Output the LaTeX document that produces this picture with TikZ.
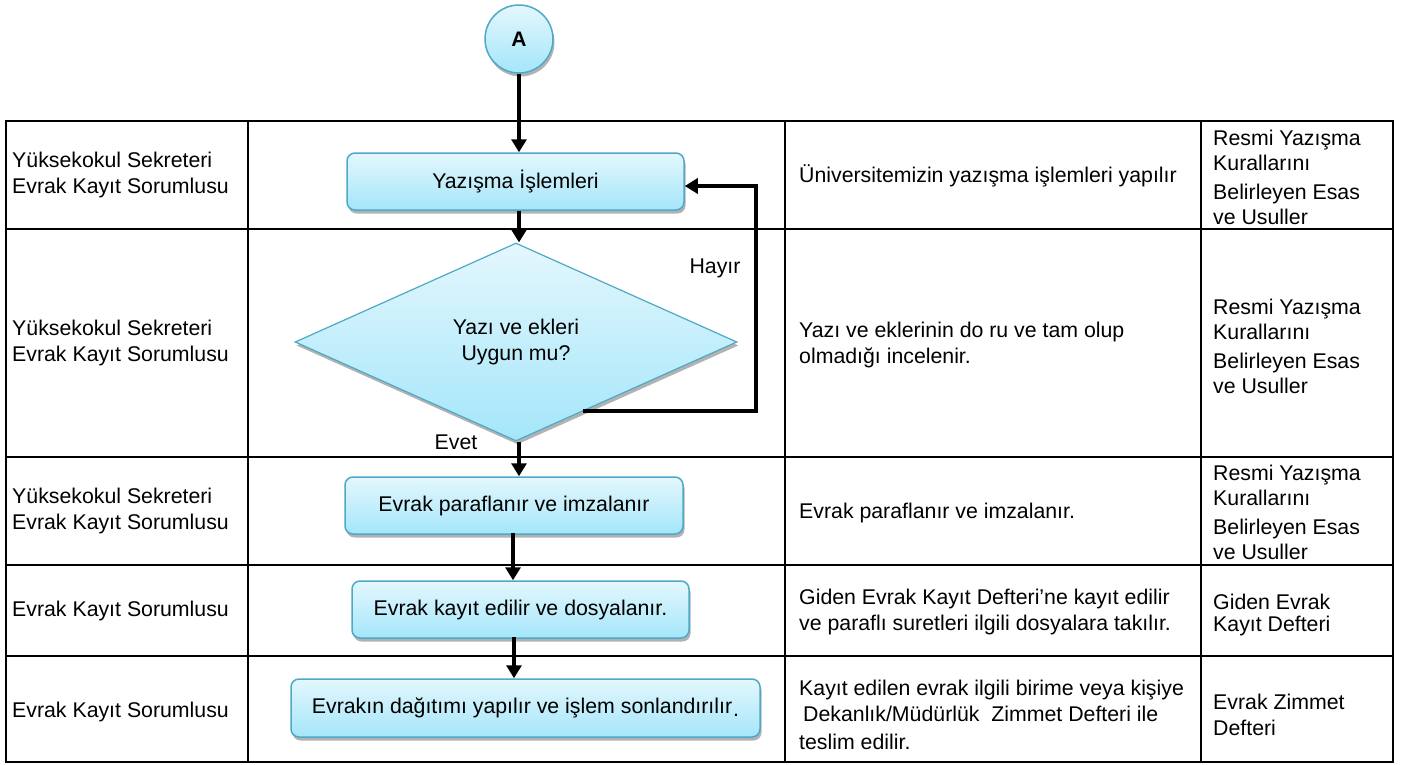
\documentclass[tikz,border=0pt]{standalone}
\usepackage{fontspec}
\setmainfont{Liberation Sans}
\usetikzlibrary{shapes.geometric,arrows.meta,shadows,calc}
\definecolor{boxtop}{RGB}{228,247,253}
\definecolor{boxbot}{RGB}{164,230,250}
\definecolor{boxline}{RGB}{78,168,198}
\tikzset{
  txt/.style={font=\fontsize{21.3}{25.6}\selectfont, inner sep=0pt, align=left, anchor=west},
  flowfill/.style={draw=boxline, line width=1.5pt, top color=boxtop, bottom color=boxbot,
    drop shadow={shadow xshift=1.5pt, shadow yshift=-3.5pt, opacity=0.3, fill=black}},
  flowbox/.style={flowfill, rounded corners=8pt, inner sep=0pt,
    font=\fontsize{21.3}{25.6}\selectfont},
  arr/.style={line width=4pt, -{Triangle[width=15pt,length=13pt]}},
  gridline/.style={line width=2pt},
}
\begin{document}
\begin{tikzpicture}[x=1pt,y=-1pt]
\useasboundingbox (0,0) rectangle (1401,764);
% table
\draw[gridline] (6,121) rectangle (1393,762);
\foreach \yy in {229,457,565,656} \draw[gridline] (6,\yy) -- (1393,\yy);
\foreach \xx in {248,785,1201} \draw[gridline] (\xx,121) -- (\xx,762);
% left column
\node[txt] (l1) at (12,175) {Yüksekokul Sekreteri\\Evrak Kayıt Sorumlusu};
\node[txt] (l2) at (12,343) {Yüksekokul Sekreteri\\Evrak Kayıt Sorumlusu};
\node[txt] (l3) at (12,511) {Yüksekokul Sekreteri\\Evrak Kayıt Sorumlusu};
\node[txt] (l4) at (12,611) {Evrak Kayıt Sorumlusu};
\node[txt] (l5) at (12,712) {Evrak Kayıt Sorumlusu};
% description column
\node[txt] (t1) at (799,176) {Üniversitemizin yazışma işlemleri yapılır};
\node[txt] (t2) at (799,345) {Yazı ve eklerinin do ru ve tam olup\\olmadığı incelenir.};
\node[txt] (t3) at (799,513) {Evrak paraflanır ve imzalanır.};
\node[txt] (t4) at (799,612) {Giden Evrak Kayıt Defteri’ne kayıt edilir\\ve paraflı suretleri ilgili dosyalara takılır.};
\node[txt] (t5) at (799,715) {Kayıt edilen evrak ilgili birime veya kişiye\\\hspace*{4pt}Dekanlık/Müdürlük~ Zimmet Defteri ile\\[3pt]teslim edilir.};
% right column
\node[txt] (r1) at (1213,177) {Resmi Yazışma\\Kurallarını\\[3pt]Belirleyen Esas\\[-1pt]ve Usuller};
\node[txt] (r2) at (1213,346) {Resmi Yazışma\\Kurallarını\\[3pt]Belirleyen Esas\\[-1pt]ve Usuller};
\node[txt] (r3) at (1213,512) {Resmi Yazışma\\Kurallarını\\[3pt]Belirleyen Esas\\[-1pt]ve Usuller};
\node[txt] (r4) at (1213,615) {Giden Evrak\\[-4pt]Kayıt Defteri};
\node[txt] (r5) at (1213,715) {Evrak Zimmet\\Defteri};
% flow shapes
\node[flowfill, circle, minimum size=68pt, inner sep=0pt,
  font=\bfseries\fontsize{21}{24}\selectfont] (A) at (519,39) {A};
\node[flowbox, minimum width=337pt, minimum height=57pt] (b1) at (515.5,181.5) {Yazışma İşlemleri};
\node[flowfill, diamond, line width=1.2pt, minimum width=442pt, minimum height=198pt, aspect=2.23,
  inner sep=0pt, align=center, font=\fontsize{21.3}{29}\selectfont] (d) at (516,342)
  {\raisebox{-3pt}{Yazı ve ekleri}\\Uygun mu?};
\node[flowbox, minimum width=338pt, minimum height=57pt] (b3) at (514,505.5) {Evrak paraflanır ve imzalanır};
\node[flowbox, minimum width=337pt, minimum height=57pt] (b4) at (520.5,609.5) {Evrak kayıt edilir ve dosyalanır.};
\node[flowbox, minimum width=469pt, minimum height=58pt] (b5) at (525.5,708) {Evrakın dağıtımı yapılır ve işlem sonlandırılır\kern1pt\raisebox{-3pt}{.}};
% labels
\node[font=\fontsize{21.3}{25.6}\selectfont, inner sep=0pt] (hayir) at (715,268) {Hayır};
\node[font=\fontsize{21.3}{25.6}\selectfont, inner sep=0pt] (evet) at (456,442) {Evet};
% connectors
\coordinate (c2) at (513,0);
\coordinate (c3) at (514,0);
\draw[arr] (A.south) -- (A |- b1.north);
\draw[arr] (A |- b1.south) -- (A |- d.north);
\draw[arr] (A |- d.south) -- (A |- b3.north);
\draw[arr] ($(c2 |- b3.south)+(0,-2)$) -- (c2 |- b4.north);
\draw[arr] ($(c3 |- b4.south)+(0,-2)$) -- (c3 |- b5.north);
\coordinate (dl) at ($(d.east)!0.697!(d.south)$);
\coordinate (lt) at (756,186);
\draw[arr] (dl) -| (lt) -- (b1.east |- lt);
\end{tikzpicture}
\end{document}
